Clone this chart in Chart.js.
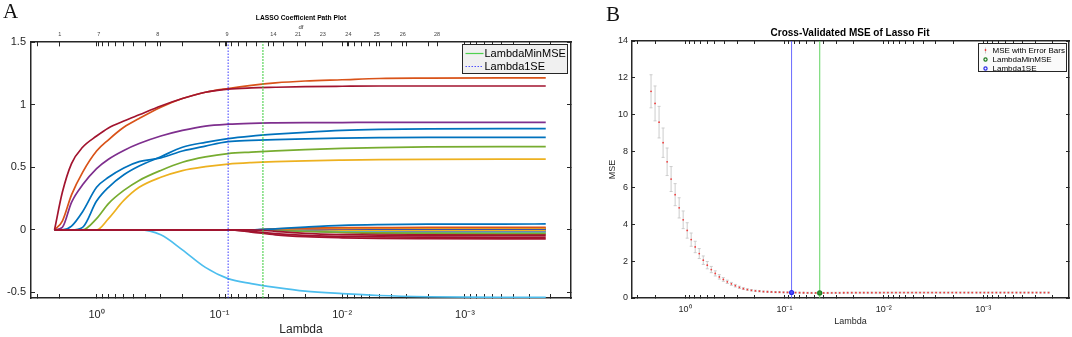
<!DOCTYPE html>
<html>
<head>
<meta charset="utf-8">
<script src="https://cdn.jsdelivr.net/npm/chart.js@4.4.1/dist/chart.umd.min.js"></script>
<style>
  body { margin: 0; background: #fff; }
  #wrap { position: relative; width: 1072px; height: 337px; overflow: hidden; background: #fff; }
  .panel { position: absolute; top: 0; height: 337px; }
  #panelA { left: 0; width: 602px; }
  #panelB { left: 585px; width: 530px; }
  .tag { position: absolute; font-family: "Liberation Serif", "Times New Roman", serif; font-size: 21px; line-height: 21px; color: #111; }
</style>
</head>
<body>
<div id="wrap">
  <div class="panel" id="panelA"><canvas id="chartA"></canvas></div>
  <div class="panel" id="panelB"><canvas id="chartB"></canvas></div>
  <div class="tag" style="left:3px;top:1px">A</div>
  <div class="tag" style="left:606px;top:4px">B</div>
</div>
<script>
// lambda grid used for the coefficient paths
const pathLambda = [2.2, 1.9, 1.6, 1.3, 1.0, 0.8, 0.6, 0.45, 0.3, 0.2, 0.13, 0.085, 0.055, 0.035, 0.02, 0.01, 0.005, 0.002, 0.0005, 0.00022];

// large coefficients
const bigRed    = [0, 0.3, 0.53, 0.66, 0.75, 0.815, 0.87, 0.92, 0.99, 1.05, 1.1, 1.125, 1.135, 1.14, 1.145, 1.148, 1.15, 1.15, 1.15, 1.15];
const bigOrange = [0, 0.07, 0.28, 0.46, 0.63, 0.72, 0.82, 0.89, 0.98, 1.05, 1.1, 1.13, 1.155, 1.175, 1.19, 1.2, 1.21, 1.213, 1.215, 1.215];
const bigPurple = [0, 0.02, 0.22, 0.36, 0.49, 0.565, 0.635, 0.69, 0.75, 0.795, 0.83, 0.845, 0.852, 0.855, 0.857, 0.858, 0.86, 0.86, 0.86, 0.86];
const bigBlueA  = [0, 0, 0.03, 0.145, 0.34, 0.42, 0.495, 0.545, 0.575, 0.63, 0.67, 0.705, 0.715, 0.722, 0.728, 0.733, 0.737, 0.74, 0.74, 0.74];
const bigBlueB  = [0, 0, 0, 0.02, 0.23, 0.34, 0.44, 0.51, 0.585, 0.66, 0.7, 0.73, 0.75, 0.765, 0.78, 0.795, 0.803, 0.808, 0.81, 0.81];
const bigGreen  = [0, 0, 0, 0, 0.09, 0.21, 0.315, 0.395, 0.475, 0.54, 0.583, 0.61, 0.622, 0.632, 0.642, 0.652, 0.658, 0.663, 0.665, 0.665];
const bigYellow = [0, 0, 0, 0, 0, 0.09, 0.235, 0.34, 0.42, 0.474, 0.505, 0.526, 0.538, 0.546, 0.552, 0.557, 0.561, 0.564, 0.565, 0.565];
const bigCyan   = [0, 0, 0, 0, 0, 0, 0, 0, -0.04, -0.16, -0.3, -0.39, -0.43, -0.46, -0.49, -0.51, -0.525, -0.535, -0.54, -0.54];

// small coefficients that enter near the selected lambdas
const smallRed1    = [0,0,0,0,0,0,0,0,0,0,0, 0, -0.018, -0.04, -0.055, -0.064, -0.069, -0.071, -0.072, -0.072];
const smallRed2    = [0,0,0,0,0,0,0,0,0,0,0, 0, -0.012, -0.03, -0.045, -0.053, -0.057, -0.059, -0.06, -0.06];
const smallRed3    = [0,0,0,0,0,0,0,0,0,0,0, 0, 0, -0.012, -0.028, -0.038, -0.043, -0.046, -0.047, -0.047];
const smallRed4    = [0,0,0,0,0,0,0,0,0,0,0, 0, 0, 0, -0.008, -0.02, -0.03, -0.035, -0.037, -0.037];
const smallBlue1   = [0,0,0,0,0,0,0,0,0,0,0, 0, 0, 0.008, 0.022, 0.036, 0.042, 0.045, 0.046, 0.047];
const smallBlue2   = [0,0,0,0,0,0,0,0,0,0,0, 0, 0, 0.002, 0.004, 0.005, 0.005, 0.006, 0.006, 0.006];
const smallBlue3   = [0,0,0,0,0,0,0,0,0,0,0, 0, 0, 0, 0.001, 0.002, 0.002, 0.002, 0.002, 0.002];
const smallOrange1 = [0,0,0,0,0,0,0,0,0,0,0, 0, 0, 0.008, 0.014, 0.017, 0.018, 0.019, 0.019, 0.019];
const smallOrange2 = [0,0,0,0,0,0,0,0,0,0,0, 0, 0, 0, 0.003, 0.006, 0.008, 0.009, 0.009, 0.009];
const smallOrange3 = [0,0,0,0,0,0,0,0,0,0,0, 0, 0, 0, 0, 0.001, 0.002, 0.003, 0.003, 0.003];
const smallYellow1 = [0,0,0,0,0,0,0,0,0,0,0, 0, 0, 0.005, 0.01, 0.012, 0.013, 0.014, 0.014, 0.014];
const smallYellow2 = [0,0,0,0,0,0,0,0,0,0,0, 0, 0, 0, -0.002, -0.004, -0.005, -0.005, -0.005, -0.005];
const smallPurple1 = [0,0,0,0,0,0,0,0,0,0,0, 0, 0, 0.003, 0.006, 0.008, 0.009, 0.01, 0.01, 0.01];
const smallPurple2 = [0,0,0,0,0,0,0,0,0,0,0, 0, 0, 0, -0.005, -0.01, -0.013, -0.014, -0.015, -0.015];
const smallGreen1  = [0,0,0,0,0,0,0,0,0,0,0, 0, 0, -0.004, -0.012, -0.02, -0.025, -0.027, -0.028, -0.028];
const smallGreen2  = [0,0,0,0,0,0,0,0,0,0,0, 0, 0, 0, 0.002, 0.004, 0.005, 0.005, 0.005, 0.005];
const smallCyan1   = [0,0,0,0,0,0,0,0,0,0,0, 0, 0, -0.003, -0.01, -0.016, -0.019, -0.02, -0.021, -0.021];
const smallCyan2   = [0,0,0,0,0,0,0,0,0,0,0, 0, 0, 0, 0, -0.003, -0.006, -0.008, -0.009, -0.009];

// selected lambdas
const lambda1SE = 0.0848;
const lambdaMinMSE = 0.0442;

// cross-validation curve (panel B)
const cvLambda = [2.2, 2.005, 1.827, 1.664, 1.516, 1.382, 1.259, 1.147, 1.045, 0.952,
  0.868, 0.791, 0.72, 0.656, 0.598, 0.545, 0.497, 0.452, 0.412, 0.376,
  0.342, 0.312, 0.284, 0.259, 0.236, 0.215, 0.196, 0.1785, 0.1627, 0.1482,
  0.1351, 0.123, 0.1121, 0.1021, 0.0931, 0.0848, 0.0773, 0.0704, 0.0642, 0.0585,
  0.0533, 0.0485, 0.0442, 0.0403, 0.0367, 0.0334, 0.0305, 0.0278, 0.0253, 0.0231,
  0.021, 0.0191, 0.0174, 0.0159, 0.0145, 0.0132, 0.012, 0.01095, 0.00998, 0.0091,
  0.00829, 0.00755, 0.00688, 0.00627, 0.00571, 0.0052, 0.00474, 0.00432, 0.00394, 0.00359,
  0.00327, 0.00298, 0.00271, 0.00247, 0.00225, 0.00205, 0.00187, 0.0017, 0.00155, 0.00141,
  0.00129, 0.00117, 0.00107, 0.000975, 0.000889, 0.00081, 0.000738, 0.000672, 0.000612, 0.000558,
  0.000509, 0.000463, 0.000422, 0.000385, 0.00035, 0.000319, 0.000291, 0.000265, 0.000242, 0.00022];
const cvMSE = [11.26, 10.6, 9.58, 8.46, 7.42, 6.48, 5.63, 4.91, 4.26, 3.68,
  3.18, 2.78, 2.42, 2.06, 1.79, 1.55, 1.34, 1.15, 1.01, 0.88,
  0.77, 0.67, 0.58, 0.51, 0.46, 0.42, 0.39, 0.37, 0.35, 0.34,
  0.33, 0.32, 0.315, 0.31, 0.305, 0.3, 0.295, 0.29, 0.285, 0.28,
  0.278, 0.276, 0.275, 0.276, 0.278, 0.28, 0.282, 0.284, 0.286, 0.288,
  0.289, 0.29, 0.29, 0.291, 0.291, 0.292, 0.292, 0.292, 0.293, 0.293,
  0.293, 0.293, 0.294, 0.294, 0.294, 0.294, 0.294, 0.295, 0.295, 0.295,
  0.295, 0.295, 0.295, 0.295, 0.295, 0.296, 0.296, 0.296, 0.296, 0.296,
  0.296, 0.296, 0.296, 0.296, 0.296, 0.296, 0.296, 0.296, 0.296, 0.296,
  0.296, 0.296, 0.296, 0.296, 0.296, 0.296, 0.296, 0.296, 0.296, 0.296];
const cvSE = [0.9, 0.95, 0.86, 0.8, 0.75, 0.68, 0.6, 0.55, 0.48, 0.42,
  0.36, 0.31, 0.27, 0.23, 0.2, 0.17, 0.14, 0.12, 0.1, 0.09,
  0.08, 0.07, 0.06, 0.05, 0.045, 0.04, 0.038, 0.036, 0.034, 0.033,
  0.032, 0.031, 0.031, 0.03, 0.03, 0.03, 0.03, 0.03, 0.03, 0.03,
  0.03, 0.03, 0.03, 0.03, 0.03, 0.03, 0.03, 0.03, 0.03, 0.03,
  0.03, 0.03, 0.03, 0.03, 0.03, 0.03, 0.03, 0.03, 0.03, 0.03,
  0.03, 0.03, 0.03, 0.03, 0.03, 0.03, 0.03, 0.03, 0.03, 0.03,
  0.03, 0.03, 0.03, 0.03, 0.03, 0.03, 0.03, 0.03, 0.03, 0.03,
  0.03, 0.03, 0.03, 0.03, 0.03, 0.03, 0.03, 0.03, 0.03, 0.03,
  0.03, 0.03, 0.03, 0.03, 0.03, 0.03, 0.03, 0.03, 0.03, 0.03];

// axes
const lambdaMin = 0.000137;
const lambdaMax = 3.42;
const lambdaTicks = [3, 2, 1, 0.9, 0.8, 0.7, 0.6, 0.5, 0.4, 0.3, 0.2,
  0.1, 0.09, 0.08, 0.07, 0.06, 0.05, 0.04, 0.03, 0.02,
  0.01, 0.009, 0.008, 0.007, 0.006, 0.005, 0.004, 0.003, 0.002,
  0.001, 0.0009, 0.0008, 0.0007, 0.0006, 0.0005, 0.0004, 0.0003, 0.0002];
const lambdaLabels = { '1': '10⁰', '0.1': '10⁻¹', '0.01': '10⁻²', '0.001': '10⁻³' };
const dfLambda = [1.99, 0.96, 0.318, 0.0867, 0.0363, 0.0229, 0.0144, 0.0089, 0.00522, 0.00321, 0.00169];
const dfLabels = ['1', '7', '8', '9', '14', '21', '23', '24', '25', '26', '28'];
const coefTicks = [-0.5, 0, 0.5, 1, 1.5];
const mseTicks = [0, 2, 4, 6, 8, 10, 12, 14];

const FONT = '"Liberation Sans", Arial, Helvetica, sans-serif';
const ink = '#262626';
Chart.defaults.font.family = FONT;

const C = {
  blue: '#0072BD', orange: '#D95319', yellow: '#EDB120', purple: '#7E2F8E',
  green: '#77AC30', cyan: '#4DBEEE', darkred: '#A2142F'
};

function pathSet(values, color) {
  return {
    data: values.map((v, i) => ({ x: pathLambda[i], y: v })),
    borderColor: color, borderWidth: 1.7, pointRadius: 0,
    cubicInterpolationMode: 'monotone', fill: false
  };
}

function vline(lam, lo, hi, color, dash, width) {
  return {
    data: [{ x: lam, y: lo }, { x: lam, y: hi }],
    borderColor: color, borderDash: dash, borderWidth: width, pointRadius: 0
  };
}

// MATLAB style boxed legend in the upper right of the plot area
const boxLegend = {
  id: 'boxLegend',
  afterDraw(chart, args, o) {
    const ctx = chart.ctx;
    const a = chart.chartArea;
    const x = Math.round(a.right - o.right - o.width) + 0.5;
    const y = Math.round(a.top + o.top) + 0.5;
    ctx.save();
    ctx.fillStyle = o.background;
    ctx.fillRect(x, y, o.width, o.height);
    ctx.strokeStyle = ink;
    ctx.lineWidth = 1;
    ctx.strokeRect(x, y, o.width, o.height);
    ctx.font = o.fontSize + 'px ' + FONT;
    ctx.textBaseline = 'middle';
    ctx.textAlign = 'left';
    o.items.forEach((it, i) => {
      const cy = y + o.firstRow + i * o.rowGap;
      if (it.kind === 'line') {
        ctx.setLineDash(it.dash);
        ctx.strokeStyle = it.color;
        ctx.lineWidth = 1.2;
        ctx.beginPath();
        ctx.moveTo(x + o.sampleStart, cy);
        ctx.lineTo(x + o.sampleEnd, cy);
        ctx.stroke();
        ctx.setLineDash([]);
      } else if (it.kind === 'circle') {
        ctx.strokeStyle = it.color;
        ctx.lineWidth = 1.2;
        ctx.beginPath();
        ctx.arc(x + o.sampleStart, cy, 1.6, 0, Math.PI * 2);
        ctx.stroke();
      } else if (it.kind === 'errorbar') {
        ctx.strokeStyle = '#c8c8c8';
        ctx.lineWidth = 1;
        ctx.beginPath();
        ctx.moveTo(x + o.sampleStart, cy - 3);
        ctx.lineTo(x + o.sampleStart, cy + 3);
        ctx.stroke();
        ctx.fillStyle = it.color;
        ctx.fillRect(x + o.sampleStart - 0.7, cy - 1.5, 1.4, 2);
      }
      ctx.fillStyle = '#000';
      ctx.fillText(it.text, x + o.textStart, cy);
    });
    ctx.restore();
  }
};

function logAxis(position, ticksList, extra) {
  return Object.assign({
    type: 'logarithmic', position: position, axis: 'x', reverse: true,
    min: lambdaMin, max: lambdaMax,
    afterBuildTicks: s => { s.ticks = ticksList.map(v => ({ value: v })); },
    grid: { drawOnChartArea: false, tickLength: -4, color: ink },
    border: { color: ink, width: 1.5 }
  }, extra);
}

// ---------- panel A ----------
const topTicks = lambdaTicks.concat(dfLambda);
const dfMap = {};
dfLambda.forEach((v, i) => { dfMap[String(v)] = dfLabels[i]; });

const coefDatasets = [
  vline(lambdaMinMSE, -0.545, 1.5, 'rgba(60,205,60,0.85)', [2, 1], 1.2),
  vline(lambda1SE, -0.545, 1.5, 'rgba(40,40,255,0.7)', [1.5, 1.5], 1.3),
  pathSet(smallRed1, C.darkred), pathSet(smallRed2, C.darkred), pathSet(smallRed3, C.darkred),
  pathSet(smallBlue1, C.blue), pathSet(smallOrange1, C.orange), pathSet(smallYellow1, C.yellow),
  pathSet(smallPurple1, C.purple), pathSet(smallGreen1, C.green), pathSet(smallCyan1, C.cyan),
  pathSet(smallRed4, C.darkred), pathSet(smallBlue2, C.blue), pathSet(smallOrange2, C.orange),
  pathSet(smallYellow2, C.yellow), pathSet(smallPurple2, C.purple), pathSet(smallGreen2, C.green),
  pathSet(smallCyan2, C.cyan), pathSet(smallBlue3, C.blue), pathSet(smallOrange3, C.orange),
  pathSet(bigCyan, C.cyan), pathSet(bigRed, C.darkred), pathSet(bigOrange, C.orange),
  pathSet(bigPurple, C.purple), pathSet(bigBlueA, C.blue), pathSet(bigBlueB, C.blue),
  pathSet(bigGreen, C.green), pathSet(bigYellow, C.yellow)
];

new Chart(document.getElementById('chartA'), {
  type: 'line',
  data: { datasets: coefDatasets },
  options: {
    responsive: true,
    maintainAspectRatio: false,
    animation: false,
    layout: { padding: 0 },
    plugins: {
      legend: { display: false },
      tooltip: { enabled: false },
      title: {
        display: true, text: 'LASSO Coefficient Path Plot', color: '#000',
        font: { size: 6.7, weight: 'bold' }, padding: { top: 14, bottom: 0 }
      },
      boxLegend: {
        right: 4, top: 2, width: 105, height: 29, background: '#f0f0f0', fontSize: 11,
        firstRow: 9, rowGap: 13, sampleStart: 3, sampleEnd: 21, textStart: 22,
        items: [
          { kind: 'line', text: 'LambdaMinMSE', color: 'rgba(60,205,60,0.9)', dash: [] },
          { kind: 'line', text: 'Lambda1SE', color: 'rgba(40,40,255,0.8)', dash: [1.5, 1.5] }
        ]
      }
    },
    scales: {
      x: logAxis('bottom', lambdaTicks, {
        afterFit: s => { s.height = 39; },
        ticks: { autoSkip: false, maxRotation: 0, minRotation: 0, color: ink, font: { size: 11 }, padding: 14,
          callback: v => lambdaLabels[String(v)] || '' },
        title: { display: true, text: 'Lambda', color: ink, font: { size: 12 }, padding: { top: 0, bottom: 0 } }
      }),
      xTop: logAxis('top', topTicks, {
        afterFit: s => { s.height = 20.2; },
        ticks: { autoSkip: false, maxRotation: 0, minRotation: 0, color: '#444', font: { size: 5.5 }, padding: 8,
          callback: v => dfMap[String(v)] || '' },
        title: { display: true, text: 'df', color: '#333', font: { size: 6 }, padding: { top: 1.6, bottom: 0 } }
      }),
      y: {
        type: 'linear', min: -0.545, max: 1.5,
        afterBuildTicks: s => { s.ticks = coefTicks.map(v => ({ value: v })); },
        afterFit: s => { s.width = 31; },
        grid: { drawOnChartArea: false, tickLength: -4, color: ink },
        border: { color: ink, width: 1.5 },
        ticks: { color: ink, font: { size: 11 }, padding: 9, callback: v => String(v) }
      },
      yRight: {
        type: 'linear', position: 'right', axis: 'y', min: -0.545, max: 1.5,
        afterBuildTicks: s => { s.ticks = coefTicks.map(v => ({ value: v })); },
        afterFit: s => { s.width = 31; },
        grid: { drawOnChartArea: false, tickLength: -4, color: ink },
        border: { color: ink, width: 1.5 },
        ticks: { display: false }
      }
    }
  },
  plugins: [boxLegend]
});

// ---------- panel B ----------
const errorBarPoints = [];
cvLambda.forEach((lam, i) => {
  errorBarPoints.push({ x: lam, y: cvMSE[i] - cvSE[i] });
  errorBarPoints.push({ x: lam, y: cvMSE[i] + cvSE[i] });
  errorBarPoints.push({ x: lam, y: null });
});
const idx1SE = cvLambda.indexOf(lambda1SE);
const idxMin = cvLambda.indexOf(lambdaMinMSE);

new Chart(document.getElementById('chartB'), {
  type: 'line',
  data: {
    datasets: [
      { label: 'Lambda1SE', data: [{ x: lambda1SE, y: cvMSE[idx1SE] }], showLine: false,
        pointRadius: 2, pointBorderWidth: 1.2, pointBorderColor: '#2a2ae8', pointBackgroundColor: '#5050ff' },
      { label: 'LambdaMinMSE', data: [{ x: lambdaMinMSE, y: cvMSE[idxMin] }], showLine: false,
        pointRadius: 2, pointBorderWidth: 1.2, pointBorderColor: '#1d7a1d', pointBackgroundColor: '#3a9a3a' },
      { label: 'MSE with Error Bars', data: cvLambda.map((l, i) => ({ x: l, y: cvMSE[i] })), showLine: false,
        pointRadius: 0.9, pointBorderWidth: 0, pointBackgroundColor: '#f03c3c' },
      vline(lambda1SE, 0, 14, 'rgba(70,70,255,0.8)', [], 1),
      vline(lambdaMinMSE, 0, 14, 'rgba(90,210,90,0.8)', [], 1.2),
      { data: errorBarPoints, borderColor: '#cccccc', borderWidth: 1, spanGaps: false,
        pointStyle: 'line', pointRadius: 1.5, pointBorderWidth: 1, pointBorderColor: '#cccccc' }
    ]
  },
  options: {
    responsive: true,
    maintainAspectRatio: false,
    animation: false,
    layout: { padding: 0 },
    plugins: {
      legend: { display: false },
      tooltip: { enabled: false },
      title: {
        display: true, text: 'Cross-Validated MSE of Lasso Fit', color: '#000',
        font: { size: 10, weight: 'bold' }, padding: { top: 27.5, bottom: 0 }
      },
      boxLegend: {
        right: 3, top: 2, width: 88, height: 28, background: '#fafafa', fontSize: 8,
        firstRow: 7, rowGap: 9, sampleStart: 7, textStart: 14,
        items: [
          { kind: 'errorbar', text: 'MSE with Error Bars', color: '#f03c3c' },
          { kind: 'circle', text: 'LambdaMinMSE', color: '#1d7a1d' },
          { kind: 'circle', text: 'Lambda1SE', color: '#2a2ae8' }
        ]
      }
    },
    scales: {
      x: logAxis('bottom', lambdaTicks, {
        afterFit: s => { s.height = 39; },
        grid: { drawOnChartArea: false, tickLength: -3, color: ink },
        ticks: { autoSkip: false, maxRotation: 0, minRotation: 0, color: ink, font: { size: 9 }, padding: 9,
          callback: v => lambdaLabels[String(v)] || '' },
        title: { display: true, text: 'Lambda', color: ink, font: { size: 9 }, padding: { top: 0, bottom: 9.6 } }
      }),
      xTop: logAxis('top', lambdaTicks, {
        afterFit: s => { s.height = 1.5; },
        grid: { drawOnChartArea: false, tickLength: -3, color: ink },
        ticks: { display: false }
      }),
      y: {
        type: 'linear', min: 0, max: 14,
        afterBuildTicks: s => { s.ticks = mseTicks.map(v => ({ value: v })); },
        afterFit: s => { s.width = 47; },
        grid: { drawOnChartArea: false, tickLength: -3, color: ink },
        border: { color: ink, width: 1.5 },
        ticks: { color: ink, font: { size: 9 }, padding: 7, callback: v => String(v) },
        title: { display: true, text: 'MSE', color: ink, font: { size: 9 }, padding: { top: 22.6, bottom: 0 } }
      },
      yRight: {
        type: 'linear', position: 'right', axis: 'y', min: 0, max: 14,
        afterBuildTicks: s => { s.ticks = mseTicks.map(v => ({ value: v })); },
        afterFit: s => { s.width = 46; },
        grid: { drawOnChartArea: false, tickLength: -3, color: ink },
        border: { color: ink, width: 1.5 },
        ticks: { display: false }
      }
    }
  },
  plugins: [boxLegend]
});
</script>
</body>
</html>
